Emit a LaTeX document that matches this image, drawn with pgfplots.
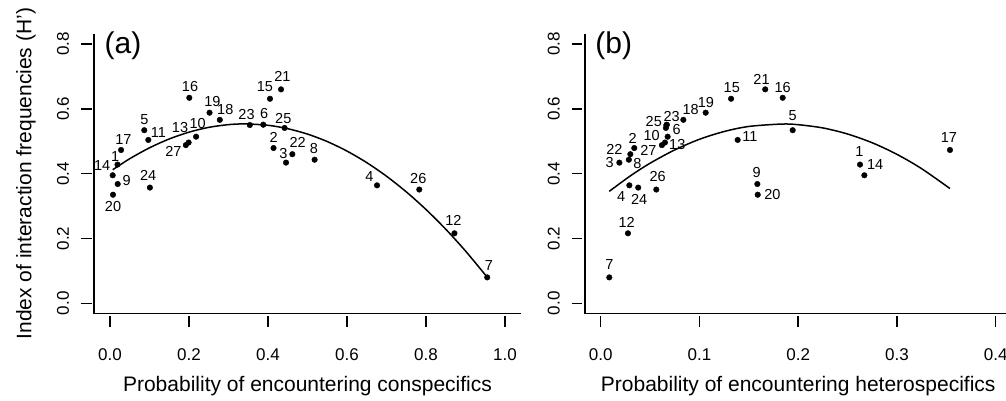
\documentclass[border=0pt]{standalone}
\usepackage{fontspec}
\setmainfont{Liberation Sans}
\usepackage{pgfplots}
\usepackage{pgfplotstable}
\pgfplotsset{compat=1.18}

\newcommand\labfont{\fontsize{14.5}{14.5}\selectfont}
\newcommand\tickfont{\fontsize{17}{17}\selectfont}
\newcommand\axfont{\fontsize{21}{21}\selectfont}
\newcommand\panfont{\fontsize{30}{30}\selectfont}

% species: x, H', label offset (dx right, dy up, in pt)
\pgfplotstableread{
n x y dx dy
1 0.0190 0.428 -2.3 8
2 0.414 0.479 0 10.3
3 0.4456 0.434 -2.7 9.3
4 0.676 0.364 -7.7 8.7
5 0.0868 0.534 0 11
6 0.388 0.551 1 11.3
7 0.955 0.080 1.7 12.3
8 0.518 0.443 -0.7 11.3
9 0.0195 0.368 9 4
10 0.218 0.514 1.6 13
11 0.097 0.504 10 7.3
12 0.872 0.216 -1 13.3
13 0.199 0.496 -8.6 15.3
14 0.0068 0.395 -10.5 9.3
15 0.405 0.631 -5 12
16 0.2008 0.634 0.7 11
17 0.028 0.473 2.3 10.7
18 0.278 0.566 5.5 10.3
19 0.252 0.588 2.8 10.9
20 0.0076 0.335 0 -12
21 0.433 0.660 1.3 12.7
22 0.4616 0.460 5.3 12
23 0.354 0.550 -3.3 10.7
24 0.101 0.357 -1.7 11.7
25 0.442 0.541 -1.3 9.7
26 0.783 0.351 -1 11.3
27 0.192 0.488 -12.5 -6.5
}\tabA

\pgfplotstableread{
n x y dx dy
1 0.2626 0.428 -0.7 13
2 0.034 0.479 -1.6 9.8
3 0.0189 0.434 -9.8 0.3
4 0.029 0.364 -8.3 -11
5 0.1944 0.534 0 14.5
6 0.0670 0.551 9.8 -4.8
7 0.0087 0.080 0 13.3
8 0.0285 0.443 8.5 -3.6
9 0.1586 0.368 -0.7 12
10 0.0678 0.514 -16 0.7
11 0.1387 0.504 12.3 3.3
12 0.0276 0.216 -1.3 11.3
13 0.0651 0.496 12.3 -1.5
14 0.267 0.395 10.7 10.3
15 0.132 0.631 0.7 10.7
16 0.1843 0.634 0 10.7
17 0.3537 0.473 -1 12
18 0.0837 0.566 7.3 10
19 0.1063 0.588 0.3 10.3
20 0.159 0.335 14.7 0.7
21 0.1666 0.660 -3.7 9.7
22 0.0300 0.460 -16 5
23 0.0665 0.550 5.3 8.4
24 0.038 0.357 1 -12
25 0.0660 0.541 -12.1 6.3
26 0.0563 0.351 1.3 13
27 0.0620 0.488 -13.6 -5.6
}\tabB

\pgfplotsset{
  rpanel/.style={
    width=426.6pt, height=280.1pt, scale only axis,
    ymin=-0.032, ymax=0.832,
    ytick={0,0.2,0.4,0.6,0.8},
    axis x line=bottom, axis y line=left,
    axis line style={-, line width=1.5pt},
    tick align=outside, major tick length=10.5pt,
    tick style={line width=1.5pt, black},
    xtick style={yshift=-2.6pt},
    ytick style={xshift=-2.6pt},
    xticklabel style={font=\tickfont, anchor=center, inner sep=0pt},
    yticklabel style={font=\tickfont, rotate=90, anchor=center, inner sep=0pt},
    xticklabel shift=30.8pt,
    yticklabel shift=20.7pt,
    /pgf/number format/.cd, fixed, fixed zerofill, precision=1, assume math mode=true,
    /pgfplots/.cd,
    xlabel style={font=\axfont, at={(axis description cs:0.5,-0.2785)}, anchor=base},
    ylabel style={font=\axfont, at={(axis description cs:-0.147,0.5)}, anchor=base},
    clip=false,
  },
  spp/.style={
    only marks, mark=*, mark size=2.8pt, black,
    mark options={fill=black, draw=black},
    nodes near coords, point meta=explicit symbolic,
    visualization depends on={\thisrow{dx}\as\dx},
    visualization depends on={\thisrow{dy}\as\dy},
    nodes near coords style={anchor=center, inner sep=0pt, font=\labfont,
      xshift=\dx, yshift=\dy},
  },
}

\begin{document}
\begin{tikzpicture}

\begin{axis}[rpanel, at={(94.2pt,86.3pt)}, anchor=south west,
  xmin=-0.04, xmax=1.04, xtick={0,0.2,0.4,0.6,0.8,1},
  xlabel={Probability of encountering conspecifics},
  ylabel={Index of interaction frequencies (H')}]
  \addplot[smooth, line width=1.5pt, black, no marks] coordinates {
    (0.0068,0.4120) (0.05,0.4461) (0.1,0.4797) (0.15,0.5070) (0.2,0.5280)
    (0.25,0.5428) (0.3,0.5512) (0.342,0.5534) (0.4,0.5492) (0.45,0.5387)
    (0.5,0.5220) (0.55,0.4990) (0.6,0.4696) (0.65,0.4340) (0.7,0.3921)
    (0.75,0.3439) (0.8,0.2894) (0.85,0.2286) (0.9,0.1615) (0.955,0.0805)};
  \addplot[spp] table[x=x, y=y, meta=n]{\tabA};
  \node[font=\panfont, anchor=center] at (rel axis cs:0.0675,0.9575) {(a)};
\end{axis}

\begin{axis}[rpanel, at={(584.9pt,86.3pt)}, anchor=south west,
  xmin=-0.016, xmax=0.416, xtick={0,0.1,0.2,0.3,0.4},
  xlabel={Probability of encountering heterospecifics}]
  \addplot[smooth, line width=1.5pt, black, no marks] coordinates {
    (0.0087,0.3455) (0.03,0.3931) (0.05,0.4322) (0.075,0.4733) (0.1,0.5060)
    (0.125,0.5300) (0.15,0.5456) (0.183,0.5530) (0.2,0.5510) (0.225,0.5410)
    (0.25,0.5223) (0.275,0.4952) (0.3,0.4595) (0.325,0.4153) (0.3537,0.3540)};
  \addplot[spp] table[x=x, y=y, meta=n]{\tabB};
  \node[font=\panfont, anchor=center] at (rel axis cs:0.0675,0.9575) {(b)};
\end{axis}

\pgfresetboundingbox
\useasboundingbox (0,0) rectangle (1006pt,400pt);
\end{tikzpicture}
\end{document}
